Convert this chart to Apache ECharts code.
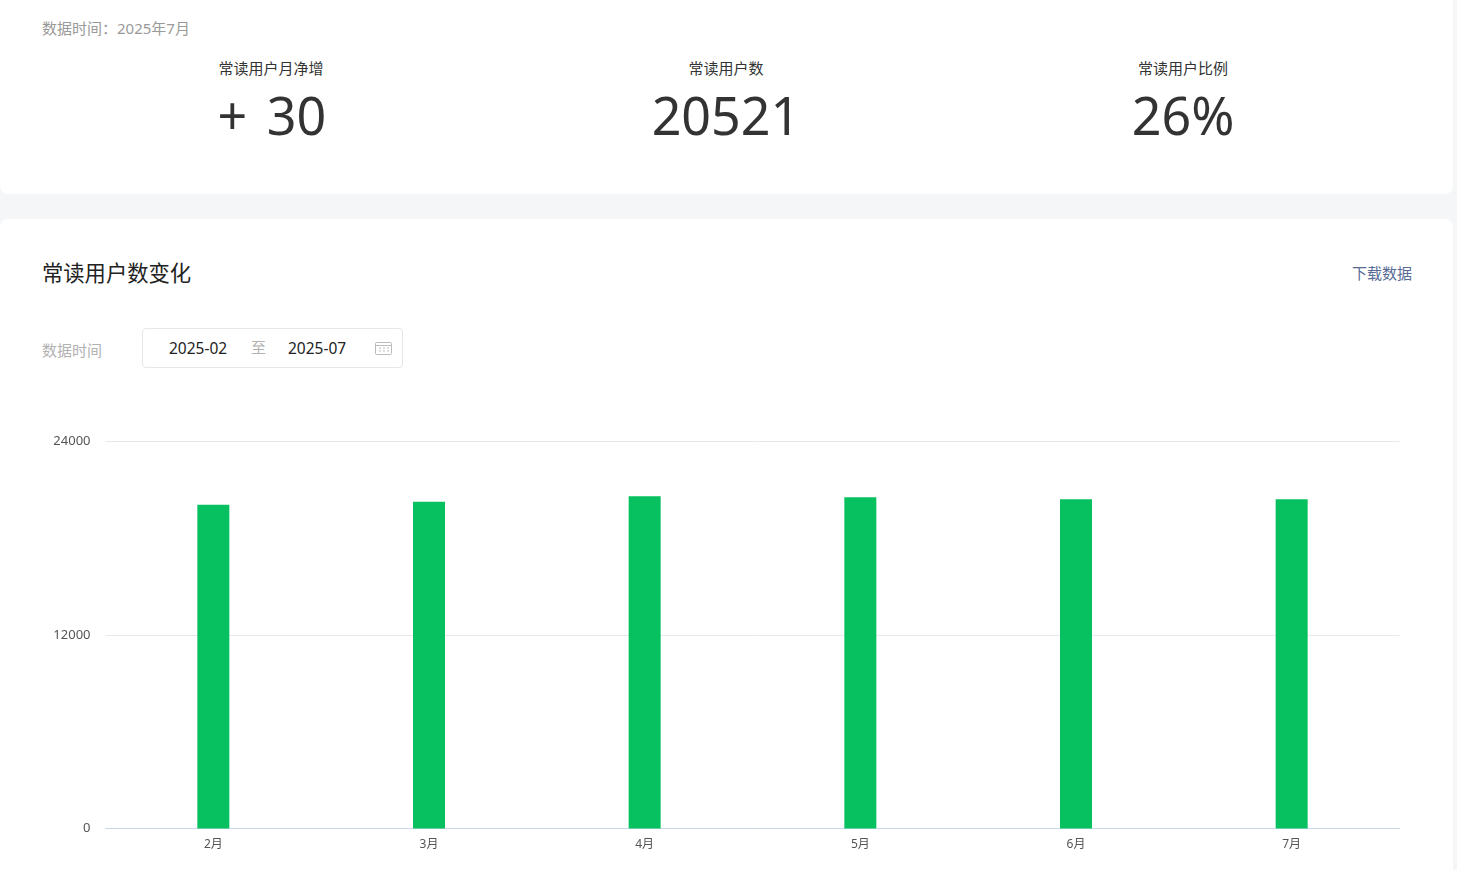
<!DOCTYPE html>
<html>
<head>
<meta charset="utf-8">
<title>常读用户数变化</title>
<script src="https://cdn.jsdelivr.net/npm/echarts@6/dist/echarts.min.js"></script>
<style>
  html, body { margin: 0; height: 100%; overflow: hidden; background: #f5f6f8; }
  body { position: relative; width: 1457px; height: 870px; font-family: "Noto Sans", "Noto Sans CJK SC", sans-serif; }
  .card { position: absolute; left: 0; width: 1453px; background: #fff; border-radius: 8px; }
  .abs { position: absolute; white-space: nowrap; line-height: 1; }
  .kpi-label { width: 300px; text-align: center; font-size: 15px; color: #333; top: 61px; }
  .kpi-value { width: 300px; text-align: center; font-size: 52px; color: #333; top: 89px; word-spacing: 6px; }
  .date-box { position: absolute; left: 142px; top: 328px; width: 259px; height: 38px; border: 1px solid #e7e7eb; border-radius: 4px; }
  #chart { position: absolute; left: 0; top: 400px; width: 1453px; height: 470px; }
</style>
</head>
<body>
<div class="card" style="top:-10px;height:204px"></div>
<div class="card" style="top:219px;height:660px"></div>

<div class="abs" style="left:42px;top:21px;font-size:15px;color:#9a9a9a">数据时间：2025年7月</div>
<div id="kpis"></div>

<div class="abs" style="left:42px;top:262px;font-size:21.3px;color:#222">常读用户数变化</div>
<div class="abs" style="left:1352px;top:266px;font-size:15px;color:#576b95">下载数据</div>

<div class="abs" style="left:42px;top:343px;font-size:15px;color:#b2b2b2">数据时间</div>
<div class="date-box"></div>
<div class="abs" style="left:169px;top:341px;font-size:15.5px;color:#222">2025-02</div>
<div class="abs" style="left:251px;top:340px;font-size:15px;color:#b2b2b2">至</div>
<div class="abs" style="left:288px;top:341px;font-size:15.5px;color:#222">2025-07</div>
<svg class="abs" style="left:375px;top:341px" width="17" height="14" viewBox="0 0 17 14">
  <rect x="0.5" y="1.5" width="16" height="12" rx="1" fill="none" stroke="#bbb"/>
  <path d="M0.5 4.5H16.5" stroke="#bbb"/>
  <path d="M4 7h2M8 7h2M12 7h2M4 10h2M8 10h2M12 10h2" stroke="#bbb"/>
</svg>

<div id="chart"></div>

<script>
const kpiLabels = ['常读用户月净增', '常读用户数', '常读用户比例'];
const kpiValues = ['+ 30', '20521', '26%'];
const kpiCenters = [272, 726, 1183];

const months = ['2月', '3月', '4月', '5月', '6月', '7月'];
const readers = [20070, 20260, 20610, 20550, 20425, 20425];
const yTicks = [0, 12000, 24000];

document.getElementById('kpis').innerHTML = kpiLabels.map(function (label, i) {
    const left = kpiCenters[i] - 150;
    return '<div class="abs kpi-label" style="left:' + (i === 0 ? left - 1 : left) + 'px">' + label + '</div>' +
        '<div class="abs kpi-value" style="left:' + left + 'px">' + kpiValues[i] + '</div>';
}).join('');

const chart = echarts.init(document.getElementById('chart'));
chart.setOption({
    animation: false,
    textStyle: {fontFamily: '"Noto Sans", "Noto Sans CJK SC", sans-serif'},
    grid: {left: 105.5, right: 53.5, top: 41.5, bottom: 41.5},
    xAxis: {
        type: 'category',
        data: months,
        axisTick: {show: false},
        axisLine: {lineStyle: {color: '#ccd6eb', width: 1}},
        axisLabel: {color: '#555', fontSize: 12, margin: 10}
    },
    yAxis: {
        type: 'value',
        min: yTicks[0],
        max: yTicks[2],
        interval: yTicks[1],
        axisLine: {show: false},
        axisTick: {show: false},
        axisLabel: {
            color: '#555',
            fontSize: 13,
            margin: 15,
            padding: [2, 0, 0, 0],
            formatter: function (v) {
                return String(v);
            }
        },
        splitLine: {lineStyle: {color: '#e6e8ec', width: 1}}
    },
    series: [
        {
            name: '常读用户数',
            type: 'bar',
            data: readers,
            barWidth: 32,
            itemStyle: {color: '#07c160'}
        }
    ]
});
window.addEventListener('resize', function () {
    chart.resize();
});
</script>
</body>
</html>
